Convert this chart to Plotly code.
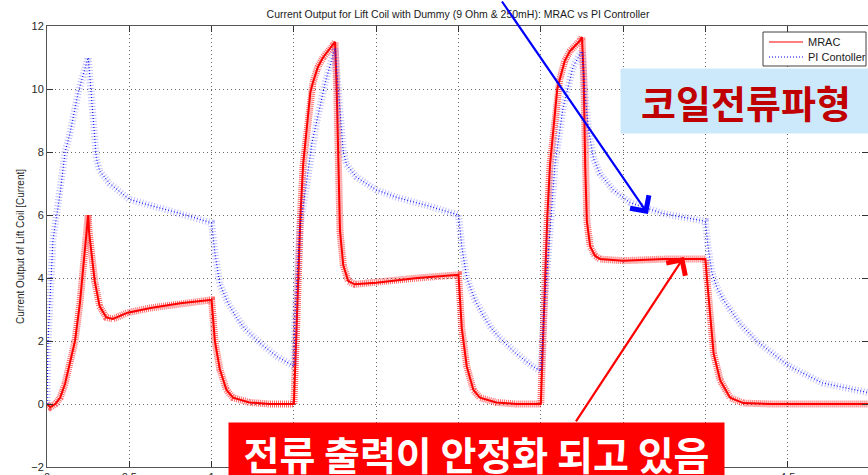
import plotly.graph_objects as go

# ---- MRAC controller: lift-coil current [A] vs time [s] ----
t_mrac = [0.00, 0.02, 0.05, 0.08, 0.11, 0.14, 0.17, 0.20, 0.23, 0.245, 0.25, 0.255, 0.27, 0.29,
          0.32, 0.36, 0.40, 0.49, 0.63, 0.81, 0.99, 1.00, 1.02, 1.05, 1.09, 1.13, 1.23, 1.35, 1.50,
          1.51, 1.524, 1.54, 1.556, 1.586, 1.60, 1.615, 1.646, 1.677, 1.74, 1.75, 1.76, 1.77, 1.78,
          1.80, 1.83, 1.87, 2.00, 2.25, 2.50, 2.52, 2.55, 2.59, 2.63, 2.73, 2.85, 3.00,
          3.01, 3.024, 3.04, 3.056, 3.086, 3.10, 3.115, 3.146, 3.177, 3.24, 3.25, 3.26, 3.27, 3.28,
          3.30, 3.33, 3.36, 3.50, 3.75, 4.00, 4.01, 4.03, 4.05, 4.09, 4.15, 4.23, 4.40, 5.00]
i_mrac = [0.0, -0.1, 0.0, 0.2, 0.65, 1.3, 2.0, 3.2, 4.8, 5.5, 6.0, 5.5, 4.8, 3.9,
          3.1, 2.75, 2.7, 2.9, 3.05, 3.2, 3.3, 3.3, 2.0, 1.1, 0.45, 0.2, 0.05, 0.0, 0.0,
          1.5, 4.0, 6.0, 7.6, 9.2, 9.9, 10.2, 10.7, 11.0, 11.4, 11.5, 10.0, 7.5, 5.5,
          4.4, 3.9, 3.8, 3.85, 4.0, 4.1, 2.4, 1.2, 0.45, 0.2, 0.05, 0.0, 0.0,
          1.5, 4.0, 6.0, 7.6, 9.2, 10.0, 10.3, 10.9, 11.2, 11.55, 11.65, 10.5, 7.5, 5.8,
          5.0, 4.7, 4.6, 4.55, 4.6, 4.6, 3.95, 2.65, 1.6, 0.75, 0.2, 0.03, 0.0, 0.0]

# ---- PI controller: lift-coil current [A] vs time [s] ----
t_pi = [0.000, 0.006, 0.036, 0.06, 0.08, 0.11, 0.14, 0.19, 0.25, 0.26, 0.29, 0.30, 0.32, 0.38,
        0.50, 0.63, 0.81, 1.00, 1.02, 1.05, 1.10, 1.15, 1.20, 1.25, 1.30, 1.35, 1.40, 1.45, 1.50,
        1.506, 1.536, 1.56, 1.58, 1.61, 1.64, 1.69, 1.75, 1.76, 1.79, 1.80, 1.82, 1.88, 2.00,
        2.13, 2.31, 2.50, 2.52, 2.55, 2.60, 2.65, 2.70, 2.75, 2.80, 2.85, 2.90, 2.95, 3.00,
        3.02, 3.056, 3.086, 3.135, 3.196, 3.238, 3.25, 3.27, 3.29, 3.32, 3.36, 3.44, 3.54, 3.74,
        4.00, 4.016, 4.04, 4.07, 4.11, 4.21, 4.31, 4.41, 4.51, 4.71, 4.96, 5.00]
i_pi = [0.0, 2.0, 5.2, 6.0, 6.7, 8.0, 8.6, 9.9, 11.0, 10.4, 8.6, 7.8, 7.4, 7.0,
        6.5, 6.3, 6.05, 5.75, 4.8, 3.8, 3.2, 2.75, 2.4, 2.15, 1.9, 1.7, 1.5, 1.35, 1.2,
        2.8, 5.6, 6.4, 7.1, 8.3, 9.0, 10.2, 11.3, 10.6, 8.8, 8.0, 7.6, 7.2, 6.8,
        6.55, 6.3, 6.0, 5.0, 4.0, 3.3, 2.8, 2.4, 2.1, 1.85, 1.6, 1.4, 1.2, 1.05,
        3.0, 5.5, 7.6, 9.4, 10.7, 11.1, 11.2, 9.75, 8.7, 7.8, 7.3, 6.8, 6.4, 6.05,
        5.8, 5.0, 4.15, 3.7, 3.3, 2.55, 2.0, 1.6, 1.2, 0.67, 0.4, 0.35]

series_names = ["MRAC", "PI Contoller"]
x_ticks = [0, 0.5, 1, 1.5, 2, 2.5, 3, 3.5, 4, 4.5, 5]
x_tick_text = ["0", "0.5", "1", "1.5", "2", "2.5", "3", "3.5", "4", "4.5", "5"]
y_ticks = [-2, 0, 2, 4, 6, 8, 10, 12]

W, H = 868, 475
M_L, M_R, M_T, M_B = 47, 0, 26, 8
PW, PH = W - M_L - M_R, H - M_T - M_B

def px(x):
    return (x - M_L) / PW

def py(y):
    return (H - M_B - y) / PH

BASE_FONT = "Liberation Sans, Arial, sans-serif"
KR_FONT = "Noto Sans CJK KR, Noto Sans, sans-serif"
RED = "#ff0000"
BLUE = "#0000ff"
PI_DASH = "1px,2px"

fig = go.Figure()

# switching-ripple band + centre trace for each controller
fig.add_trace(go.Scatter(x=t_mrac, y=i_mrac, mode="lines", showlegend=False, hoverinfo="skip",
                         line=dict(color="rgba(255,0,0,0.6)", width=7, dash="1px,1px")))
fig.add_trace(go.Scatter(x=t_mrac, y=i_mrac, mode="lines", name=series_names[0], showlegend=False,
                         line=dict(color=RED, width=2)))
fig.add_trace(go.Scatter(x=t_pi, y=i_pi, mode="lines", showlegend=False, hoverinfo="skip",
                         line=dict(color="rgba(40,40,255,0.3)", width=7, dash="1px,2px")))
fig.add_trace(go.Scatter(x=t_pi, y=i_pi, mode="lines", name=series_names[1], showlegend=False,
                         line=dict(color=BLUE, width=1, dash=PI_DASH)))

axis_common = dict(
    showline=True, linecolor="#555555", linewidth=1, mirror="ticks",
    ticks="inside", ticklen=6, tickcolor="#333333",
    showgrid=True, gridcolor="#666666", griddash="1px,3px", gridwidth=1,
    zeroline=False, automargin=False,
    tickfont=dict(family=BASE_FONT, size=11, color="#262626"),
)

fig.update_xaxes(range=[0, PW / 164.6], tickvals=x_ticks, ticktext=x_tick_text, **axis_common)
fig.update_yaxes(range=[-2, 12], tickvals=y_ticks, **axis_common,
                 title=dict(text="Current Output of Lift Coil [Current]", standoff=4,
                            font=dict(family=BASE_FONT, size=10, color="#262626")))

# boxed legend in the upper-right corner of the axes
LEG_L, LEG_R, LEG_T, LEG_B = 763, 866, 32, 66
shapes = [
    dict(type="rect", xref="paper", yref="paper", x0=px(LEG_L), x1=px(LEG_R), y0=py(LEG_B), y1=py(LEG_T),
         fillcolor="white", line=dict(color="#404040", width=1), layer="above"),
    dict(type="line", xref="paper", yref="paper", x0=px(769), x1=px(803), y0=py(42), y1=py(42),
         line=dict(color=RED, width=1.2), layer="above"),
    dict(type="line", xref="paper", yref="paper", x0=px(769), x1=px(803), y0=py(57), y1=py(57),
         line=dict(color=BLUE, width=1, dash=PI_DASH), layer="above"),
]

annotations = [
    dict(x=px(806), y=py(42), xref="paper", yref="paper", xanchor="left", yanchor="middle",
         text=series_names[0], showarrow=False,
         font=dict(family=BASE_FONT, size=11, color="#1a1a1a")),
    dict(x=px(806), y=py(57), xref="paper", yref="paper", xanchor="left", yanchor="middle",
         text=series_names[1], showarrow=False,
         font=dict(family=BASE_FONT, size=11, color="#1a1a1a")),
    # arrow pointing at the PI current waveform
    dict(x=3.651, y=6.03, xref="x", yref="y", ax=-147, ay=-222, axref="pixel", ayref="pixel",
         text="", showarrow=True, arrowhead=4, arrowsize=2, arrowwidth=2.2, arrowcolor=BLUE),
    # arrow pointing at the settled MRAC current
    dict(x=3.87, y=4.67, xref="x", yref="y", ax=-109, ay=166, axref="pixel", ayref="pixel",
         text="", showarrow=True, arrowhead=4, arrowsize=2, arrowwidth=2.2, arrowcolor=RED),
    dict(x=px(746), y=py(101), xref="paper", yref="paper", xanchor="center", yanchor="middle",
         text="<b>코일전류파형</b>", showarrow=False, width=250, height=64, borderpad=0,
         bgcolor="#cce9fb", font=dict(family=KR_FONT, size=38, color="#c00000")),
    dict(x=px(476), y=py(453), xref="paper", yref="paper", xanchor="center", yanchor="middle",
         text="<b>전류 출력이 안정화 되고 있음</b>", showarrow=False, width=495, height=60,
         borderpad=0, bgcolor=RED, font=dict(family=KR_FONT, size=39, color="#ffffff")),
]

fig.update_layout(
    width=W, height=H,
    margin=dict(l=M_L, r=M_R, t=M_T, b=M_B),
    paper_bgcolor="white", plot_bgcolor="white",
    title=dict(text="Current Output for Lift Coil with Dummy (9 Ohm & 250mH): MRAC vs PI Controller",
               x=px(458), xanchor="center", xref="paper", y=1 - 14 / H, yanchor="middle",
               font=dict(family=BASE_FONT, size=10.5, color="#1a1a1a")),
    shapes=shapes,
    annotations=annotations,
    showlegend=False,
)

fig.write_html("out.html")
